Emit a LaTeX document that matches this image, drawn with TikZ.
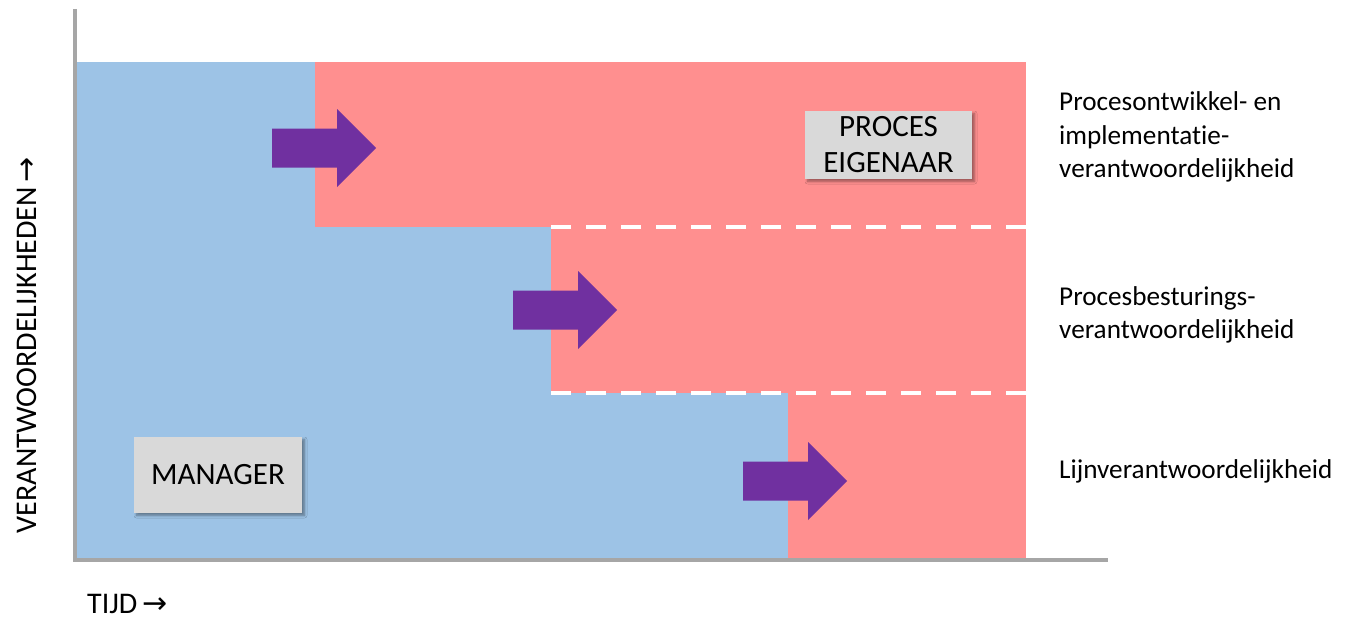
\documentclass[tikz,border=0pt]{standalone}
\usepackage{fontspec}
\setmainfont[Ligatures=NoCommon]{Carlito}
\newfontfamily\arrowfont{DejaVu Sans}
\usetikzlibrary{shadows.blur}
\definecolor{mgrblue}{HTML}{9DC3E6}
\definecolor{ownpink}{HTML}{FF8F8F}
\definecolor{shiftpurple}{HTML}{7030A0}
\definecolor{boxgray}{HTML}{D9D9D9}
\definecolor{axisgray}{HTML}{A6A6A6}
\tikzset{
  axisline/.style={draw=axisgray,line width=4pt},
  dashline/.style={draw=white,line width=4pt,dash pattern=on 20pt off 15pt},
  rolebox/.style={fill=boxgray,align=center,font=\fontsize{31}{36}\selectfont,inner sep=0pt,
    blur shadow={shadow xshift=2.5pt,shadow yshift=-2.5pt,shadow blur steps=6,shadow blur radius=2.5pt}},
  resplabel/.style={anchor=west,align=left,font=\fontsize{27.2}{33.5}\selectfont,inner sep=0pt},
  axislabel/.style={font=\fontsize{30}{34}\selectfont,inner sep=0pt,text height=20pt,text depth=0pt}
}
\newcommand\axarrow{{\arrowfont\fontsize{30}{30}\selectfont →}}
\begin{document}
\begin{tikzpicture}[x=1pt,y=-1pt]
\useasboundingbox (0,0) rectangle (1346,618);
% regions
\fill[mgrblue] (77,62) rectangle (1026,558);
\fill[ownpink] (315,62) rectangle (1026,227);
\fill[ownpink] (551,227) rectangle (1026,393);
\fill[ownpink] (788,393) rectangle (1026,558);
% dashed separators
\coordinate (d1a) at (551,227); \coordinate (d1b) at (1026,227);
\coordinate (d2a) at (551,393); \coordinate (d2b) at (1026,393);
\draw[dashline] (d1a) -- (d1b);
\draw[dashline] (d2a) -- (d2b);
% axes
\coordinate (ytop) at (75,9);
\coordinate (origin) at (75,560);
\coordinate (xend) at (1108,560);
\draw[axisline] (ytop) -- (origin) -- (xend);
% arrows
\foreach \xo/\yc in {272/148, 513/310, 743/481}{
  \fill[shiftpurple] (\xo,\yc-19.5) -- (\xo+65,\yc-19.5) -- (\xo+65,\yc-39) -- (\xo+104,\yc)
    -- (\xo+65,\yc+39) -- (\xo+65,\yc+19.5) -- (\xo,\yc+19.5) -- cycle;
}
% role boxes
\node[rolebox,minimum width=167pt,minimum height=68pt] (owner) at (888.5,145) {PROCES\\EIGENAAR};
\node[rolebox,minimum width=168pt,minimum height=76pt] (manager) at (218,475) {MANAGER};
% right labels
\node[resplabel] (r1) at (1059,137) {Procesontwikkel- en\\implementatie-\\verantwoordelijkheid};
\node[resplabel] (r2) at (1059,315) {Procesbesturings-\\verantwoordelijkheid};
\node[resplabel] (r3) at (1059,471) {Lijnverantwoordelijkheid};
% axis labels
\node[axislabel,rotate=90,anchor=base] (ylab) at (36,345) {VERANTWOORDELIJKHEDEN\,\axarrow};
\node[axislabel,anchor=base west] (xlab) at (87,613) {TIJD\,\axarrow};
\end{tikzpicture}
\end{document}
